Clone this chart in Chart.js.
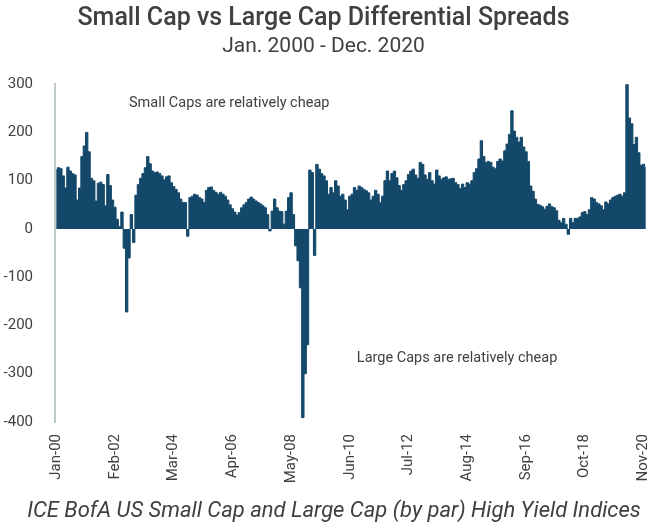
<!DOCTYPE html>
<html>
<head>
<meta charset="utf-8">
<script src="https://cdn.jsdelivr.net/npm/chart.js@4.4.1/dist/chart.umd.min.js"></script>
<style>
  html, body { margin: 0; padding: 0; background: #fff; }
  #wrap { width: 647px; height: 523px; }
</style>
</head>
<body>
<div id="wrap"><canvas id="chart" width="647" height="523"></canvas></div>
<script>
// Monthly spread differential (bps), Jan 2000 .. Dec 2020, one row per year
const spreads = [
    122, 127, 125, 110, 85, 128, 120, 115, 112, 60, 85, 150,       // 2000
    172, 200, 160, 105, 100, 58, 95, 97, 92, 48, 113, 90,          // 2001
    60, 45, 20, 5, 35, -40, -172, -60, 30, -28, 70, 92,            // 2002
    105, 115, 127, 150, 135, 120, 117, 118, 115, 110, 102, 108,    // 2003
    110, 96, 88, 82, 75, 62, 55, 55, -15, 65, 68, 72,              // 2004
    70, 65, 62, 55, 80, 86, 87, 80, 76, 72, 76, 72,                // 2005
    68, 60, 50, 42, 35, 29, 34, 44, 50, 55, 62, 66,                // 2006
    62, 58, 55, 52, 48, 44, 30, -4, 37, 62, 44, 37,                // 2007
    36, 10, 37, 65, 75, 30, -35, -66, -122, -391, -300, -240,      // 2008
    122, 117, -55, 134, 124, 115, 110, 100, 72, 86, 75, 100,       // 2009
    89, 68, 72, 60, 40, 68, 72, 86, 80, 89, 86, 82,                // 2010
    79, 75, 60, 68, 80, 72, 55, 68, 100, 120, 100, 115,            // 2011
    120, 106, 90, 80, 92, 100, 113, 120, 124, 112, 105, 138,       // 2012
    134, 112, 103, 117, 100, 93, 122, 110, 103, 106, 108, 103,     // 2013
    104, 105, 96, 92, 84, 93, 86, 96, 93, 100, 117, 125,           // 2014
    145, 183, 150, 138, 140, 138, 128, 125, 140, 145, 141, 162,    // 2015
    176, 196, 245, 203, 190, 180, 190, 170, 160, 140, 89, 78,      // 2016
    62, 51, 49, 46, 41, 47, 52, 46, 44, 38, 18, 13,                // 2017
    22, 10, -11, 22, 13, 22, 22, 25, 34, 36, 30, 40,               // 2018
    65, 62, 55, 52, 48, 40, 56, 52, 60, 65, 68, 70,                // 2019
    72, 68, 75, 300, 230, 218, 175, 190, 158, 132, 134, 127        // 2020
];

// Axis labels shown every 25 months
const tickLabels = ['Jan-00', 'Feb-02', 'Mar-04', 'Apr-06', 'May-08', 'Jun-10',
    'Jul-12', 'Aug-14', 'Sep-16', 'Oct-18', 'Nov-20'];
const tickEvery = 25;
const yTicks = [300, 200, 100, 0, -100, -200, -300, -400];

const MONTHS = ['Jan', 'Feb', 'Mar', 'Apr', 'May', 'Jun', 'Jul', 'Aug', 'Sep', 'Oct', 'Nov', 'Dec'];
const categories = spreads.map((_, i) =>
    MONTHS[i % 12] + '-' + String(Math.floor(i / 12)).padStart(2, '0'));

// Text notes, placed in data coordinates
const notes = [
    { text: 'Small Caps are relatively cheap', index: 31, value: 260 },
    { text: 'Large Caps are relatively cheap', index: 128, value: -268 }
];
const sourceText = 'ICE BofA US Small Cap and Large Cap (by par) High Yield Indices';

const TEXT = '#404040';
const FILL = '#13486a';

const notesPlugin = {
    id: 'notes',
    afterDraw(chart) {
        const { ctx, scales } = chart;
        ctx.save();
        ctx.fillStyle = TEXT;
        ctx.font = '14.5px Roboto';
        ctx.textBaseline = 'middle';
        ctx.textAlign = 'left';
        notes.forEach(n => {
            ctx.fillText(n.text, scales.x.getPixelForValue(n.index), scales.y.getPixelForValue(n.value));
        });
        ctx.font = 'italic 22px Roboto';
        ctx.textAlign = 'center';
        ctx.fillText(sourceText, 334, 511);
        ctx.restore();
    }
};

// Stepped filled area: each month is a flat block, so it reads like touching bars
new Chart(document.getElementById('chart'), {
    type: 'line',
    data: {
        labels: categories,
        datasets: [{
            data: spreads,
            stepped: 'middle',
            fill: 'origin',
            backgroundColor: FILL,
            borderColor: FILL,
            borderWidth: 1,
            pointRadius: 0
        }]
    },
    options: {
        responsive: false,
        animation: false,
        layout: { padding: { left: 0, right: 0, top: 0, bottom: 0 } },
        plugins: {
            legend: { display: false },
            tooltip: { enabled: false },
            title: {
                display: true,
                text: 'Small Cap vs Large Cap Differential Spreads',
                color: TEXT,
                font: { family: 'Roboto', size: 25, weight: '500' },
                padding: { top: 4, bottom: 0 }
            },
            subtitle: {
                display: true,
                text: 'Jan. 2000 - Dec. 2020',
                color: TEXT,
                font: { family: 'Roboto', size: 21, weight: 'normal' },
                padding: { top: 0, bottom: 25 }
            }
        },
        scales: {
            x: {
                offset: true,
                grid: { display: false },
                border: { display: false },
                ticks: {
                    autoSkip: false,
                    maxRotation: 90,
                    minRotation: 90,
                    padding: 4,
                    color: TEXT,
                    font: { family: 'Roboto', size: 15 },
                    callback: (v, i) => (i % tickEvery === 0 ? tickLabels[i / tickEvery] : '')
                },
                afterFit: s => {
                    s.height = 101;
                    s.paddingLeft = 0;
                    s.paddingRight = 0;
                }
            },
            y: {
                min: -400,
                max: 300,
                afterBuildTicks: s => { s.ticks = yTicks.map(v => ({ value: v })); },
                grid: { display: false },
                border: { display: true, color: '#bfcacd', width: 2 },
                ticks: {
                    padding: 14,
                    color: TEXT,
                    font: { family: 'Roboto', size: 15 }
                },
                afterFit: s => { s.width = 55; }
            }
        }
    },
    plugins: [notesPlugin]
});
</script>
</body>
</html>
